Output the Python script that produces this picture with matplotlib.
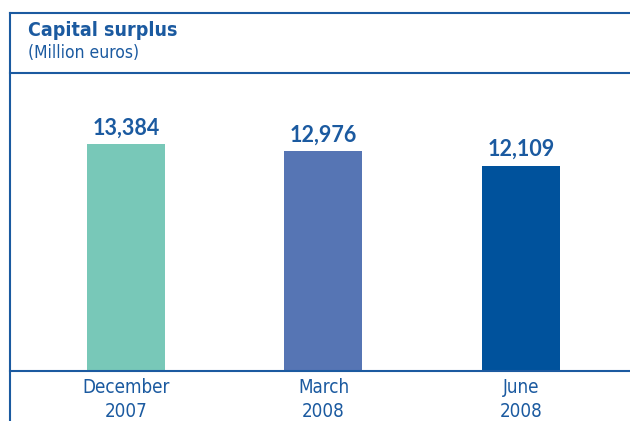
import matplotlib
matplotlib.use("Agg")
import matplotlib.pyplot as plt
from matplotlib.lines import Line2D
from matplotlib import font_manager

periods = ["December\n2007", "March\n2008", "June\n2008"]
surplus = [13384, 12976, 12109]
bar_colors = ["#78C8B8", "#5675B4", "#00529C"]

blue = "#1B5AA0"

# narrow font if one is around, otherwise Lato
fonts = font_manager.fontManager.ttflist
cond_ok = any(f.name == "DejaVu Sans" and f.stretch == "condensed" for f in fonts)
if cond_ok:
    lab_font = dict(family="DejaVu Sans", fontstretch="condensed")
    sizes = (14, 12.5, 13.5)
else:
    lab_font = dict(family="Lato")
    sizes = (13, 11.5, 12)

W, H = 630, 421
fig = plt.figure(figsize=(W / 100, H / 100), dpi=100)

# axes from baseline (y=371) up to the title rule (y=73)
ax = fig.add_axes([10 / W, (H - 371) / H, 1 - 10 / W, (371 - 73) / H])
x = range(len(surplus))
ax.bar(x, surplus, width=0.395, color=bar_colors)
ax.set_xlim(-0.587, 2.552)
ax.set_ylim(0, 17570)
for i, v in enumerate(surplus):
    ax.text(i, v + 330, f"{v:,}", ha="center", va="bottom", fontsize=15.5,
            fontweight="bold", color=blue, family="Lato")

ax.set_xticks(list(x))
ax.set_xticklabels(periods, fontsize=sizes[2], color=blue, linespacing=1.35, **lab_font)
ax.tick_params(axis="x", length=0, pad=5)
ax.set_yticks([])
for s in ["top", "right", "left"]:
    ax.spines[s].set_visible(False)
ax.spines["bottom"].set_color(blue)
ax.spines["bottom"].set_linewidth(1.5)

# frame lines
def hline(y, x0=10, x1=W):
    fig.add_artist(Line2D([x0 / W, x1 / W], [1 - y / H, 1 - y / H], color=blue, lw=1.5))

hline(13)
hline(73)
fig.add_artist(Line2D([10 / W, 10 / W], [0, 1 - 13 / H], color=blue, lw=1.5))

fig.text(28 / W, 1 - 31 / H, "Capital surplus", fontsize=sizes[0], fontweight="bold",
         color=blue, va="center", **lab_font)
fig.text(28 / W, 1 - 53 / H, "(Million euros)", fontsize=sizes[1], color=blue,
         va="center", **lab_font)

fig.savefig("out.png", dpi=100)
